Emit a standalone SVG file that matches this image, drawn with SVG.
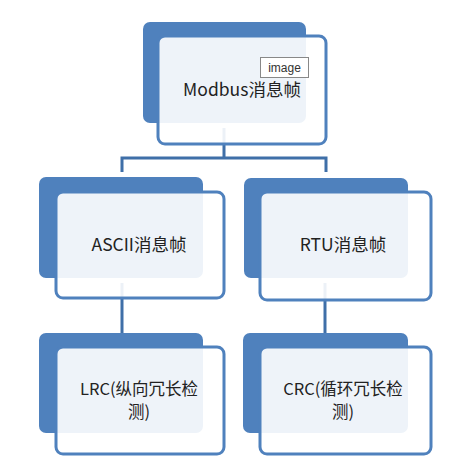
<svg xmlns="http://www.w3.org/2000/svg" width="467" height="467" viewBox="0 0 467 467">
<style>
.back{fill:#4f81bd}
.front{fill:#ffffff;fill-opacity:0.9;stroke:#4f81bd;stroke-width:3}
.conn{fill:none;stroke:#3f6fa8;stroke-width:3}
.lbl{font-family:"Noto Sans CJK SC","Noto Sans",sans-serif;font-size:17.5px;fill:#222;text-anchor:middle}
.lbl2{font-family:"Noto Sans CJK SC","Noto Sans",sans-serif;font-size:16.5px;fill:#222;text-anchor:middle}
.img{font-family:"Liberation Sans",Arial,sans-serif;font-size:12px;fill:#333;text-anchor:middle}
</style>
<rect width="467" height="467" fill="#ffffff"/>
<g id="connectors">
<path class="conn" d="M224,128 V158 M122,172 V158 H326 V172"/>
<path class="conn" d="M122,283 V333"/>
<path class="conn" d="M325,283 V333"/>
</g>
<g id="modbus">
<rect class="back" x="143" y="22" width="163" height="101" rx="7"/>
<rect class="front" x="158" y="36" width="168" height="108" rx="7"/>
<text class="lbl" x="242" y="96">Modbus消息帧</text>
</g>
<g id="image-tag">
<rect x="260.5" y="57.5" width="48" height="20" fill="#ffffff" stroke="#888888" stroke-width="1"/>
<text class="img" x="284.5" y="72">image</text>
</g>
<g id="ascii">
<rect class="back" x="39" y="177" width="164" height="101" rx="7"/>
<rect class="front" x="56" y="192" width="168" height="106" rx="7"/>
<text class="lbl" x="139" y="251">ASCII消息帧</text>
</g>
<g id="rtu">
<rect class="back" x="244" y="178" width="164" height="100" rx="7"/>
<rect class="front" x="260" y="192" width="171" height="108" rx="7"/>
<text class="lbl" x="343" y="251">RTU消息帧</text>
</g>
<g id="lrc">
<rect class="back" x="39" y="333" width="164" height="100" rx="7"/>
<rect class="front" x="56" y="347" width="168" height="107" rx="7"/>
<text class="lbl2" x="139" y="395">LRC(纵向冗长检</text>
<text class="lbl2" x="139" y="418">测)</text>
</g>
<g id="crc">
<rect class="back" x="243" y="333" width="165" height="100" rx="7"/>
<rect class="front" x="260" y="347" width="171" height="107" rx="7"/>
<text class="lbl2" x="343" y="395">CRC(循环冗长检</text>
<text class="lbl2" x="343" y="418">测)</text>
</g>
</svg>
